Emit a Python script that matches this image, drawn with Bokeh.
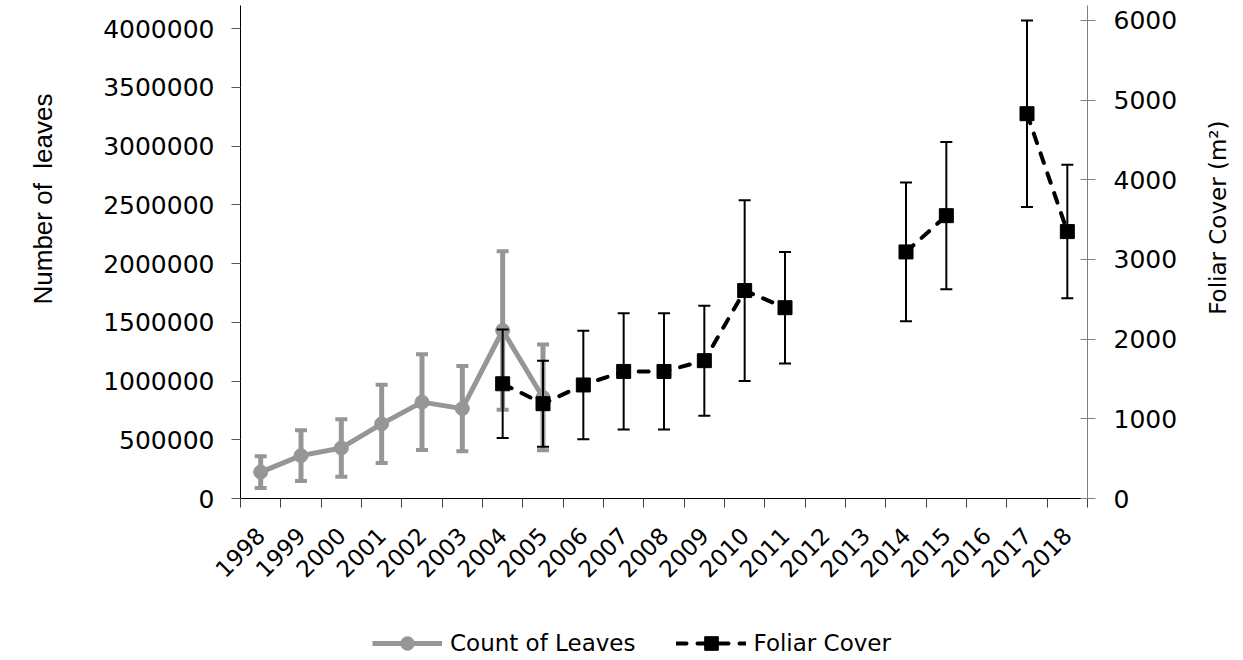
import math
from bokeh.plotting import figure
from bokeh.layouts import column, row
from bokeh.models import (Range1d, LinearAxis, FixedTicker, SingleIntervalTicker,
                          BasicTickFormatter, Legend, LegendItem, Title, ColumnDataSource)
from bokeh.embed import file_html
from bokeh.resources import INLINE

nan = float("nan")

years = list(range(1998, 2019))
year_labels = [str(y) for y in years]

leaves = [225000, 365000, 430000, 635000, 820000, 765000, 1430000, 860000] + [nan] * 13
leaves_err = [135000, 215000, 245000, 333000, 408000, 362000, 675000, 450000] + [nan] * 13

cover = [nan] * 6 + [1440, 1190, 1425, 1595, 1595, 1730, 2610, 2395, nan, nan,
                     3095, 3550, nan, 4830, 3350]
cover_err = [nan] * 6 + [680, 540, 680, 730, 730, 690, 1135, 700, nan, nan,
                         870, 925, nan, 1170, 838]

left_ticks_interval = 500000
right_ticks_interval = 1000

GRAY = "#969696"
TICK_FONT = "DejaVu Sans"

xpos = [i + 0.5 for i in range(len(years))]

src_l = ColumnDataSource(dict(
    x=xpos, y=leaves,
    up=[v + e for v, e in zip(leaves, leaves_err)],
    lo=[v - e for v, e in zip(leaves, leaves_err)]))
src_c = ColumnDataSource(dict(
    x=xpos, y=cover,
    up=[v + e for v, e in zip(cover, cover_err)],
    lo=[v - e for v, e in zip(cover, cover_err)]))

L_W = 82     # strip holding the left axis title
R_W = 52     # strip holding the right axis title
P_W = 1243 - L_W - R_W
FRAME_L, FRAME_R = 240, 1087


def side_strip(width, text, font, size, offset, standoff):
    s = figure(width=width, height=660, output_backend="svg", toolbar_location=None,
               x_axis_type=None, y_axis_type=None, min_border_left=width - 2,
               min_border_right=0, min_border_top=5, min_border_bottom=162,
               x_range=Range1d(0, 1), y_range=Range1d(0, 1))
    s.outline_line_color = None
    s.xgrid.visible = False
    s.ygrid.visible = False
    s.add_layout(Title(text=text, align="right", offset=offset, standoff=standoff,
                       text_font=font, text_font_size=size, text_font_style="normal",
                       text_color="black"), "left")
    return s


lstrip = side_strip(L_W, "Number of\u00a0 leaves", "Liberation Sans", "26px", 88, 50)
rstrip = side_strip(R_W, "Foliar Cover (m\u00b2)", TICK_FONT, "23px", 115, 22)

p = figure(width=P_W, height=615, output_backend="svg", toolbar_location=None,
           x_range=Range1d(0, len(years)), y_range=Range1d(0, 4196000),
           min_border_left=FRAME_L - L_W, min_border_right=P_W - (FRAME_R - L_W),
           min_border_top=5, min_border_bottom=117)
p.extra_y_ranges = {"right": Range1d(0, 6188)}
p.xgrid.visible = False
p.ygrid.visible = False
p.outline_line_color = None
p.background_fill_color = "white"

# x axis: labels centred in categories, ticks at category boundaries
xa = p.xaxis[0]
xa.ticker = FixedTicker(ticks=xpos, minor_ticks=list(range(len(years) + 1)))
xa.major_label_overrides = {x: lab for x, lab in zip(xpos, year_labels)}
xa.major_tick_out = 0
xa.major_tick_in = 0
xa.minor_tick_out = 9
xa.minor_tick_in = 0
xa.minor_tick_line_color = "#404040"
xa.axis_line_color = "black"
xa.major_label_orientation = math.pi / 4
xa.major_label_standoff = 24
xa.major_label_text_font = TICK_FONT
xa.major_label_text_font_size = "23px"
xa.major_label_text_color = "black"

ya = p.yaxis[0]
ya.ticker = SingleIntervalTicker(interval=left_ticks_interval, num_minor_ticks=0)
ya.formatter = BasicTickFormatter(use_scientific=False)
ya.major_tick_out = 9
ya.major_tick_in = 0
ya.minor_tick_out = 0
ya.minor_tick_in = 0
ya.major_tick_line_color = "#595959"
ya.axis_line_color = "black"
ya.major_label_standoff = 17
ya.major_label_text_font = TICK_FONT
ya.major_label_text_font_size = "25px"
ya.major_label_text_color = "black"

ra = LinearAxis(y_range_name="right",
                ticker=SingleIntervalTicker(interval=right_ticks_interval, num_minor_ticks=0))
ra.major_tick_out = 8
ra.major_tick_in = 7
ra.minor_tick_out = 0
ra.minor_tick_in = 0
ra.major_tick_line_color = "#808080"
ra.axis_line_color = "#808080"
ra.major_label_standoff = 18
ra.major_label_text_font = TICK_FONT
ra.major_label_text_font_size = "25px"
ra.major_label_text_color = "black"
p.add_layout(ra, "right")

# Count of leaves (left axis)
p.segment(x0="x", y0="lo", x1="x", y1="up", source=src_l, line_color=GRAY, line_width=5)
p.scatter(x="x", y="up", source=src_l, marker="dash", size=12, line_color=GRAY, line_width=4)
p.scatter(x="x", y="lo", source=src_l, marker="dash", size=12, line_color=GRAY, line_width=4)
p.line(x="x", y="y", source=src_l, line_color=GRAY, line_width=5)
p.scatter(x="x", y="y", source=src_l, marker="circle", size=14,
          fill_color=GRAY, line_color=GRAY)

# Foliar cover (right axis)
p.segment(x0="x", y0="lo", x1="x", y1="up", source=src_c, line_color="black",
          line_width=2, y_range_name="right")
p.scatter(x="x", y="up", source=src_c, marker="dash", size=12, line_color="black",
          line_width=2, y_range_name="right")
p.scatter(x="x", y="lo", source=src_c, marker="dash", size=12, line_color="black",
          line_width=2, y_range_name="right")
p.line(x="x", y="y", source=src_c, line_color="black", line_width=4,
       line_dash="10 11", line_cap="round", y_range_name="right")
p.scatter(x="x", y="y", source=src_c, marker="square", size=14,
          fill_color="black", line_color="black", y_range_name="right")

# Legend strip (separate figure below the chart; its series lie outside its ranges)
q = figure(width=P_W, height=45, output_backend="svg", toolbar_location=None,
           x_axis_type=None, y_axis_type=None, min_border=0,
           x_range=Range1d(-2, -1), y_range=Range1d(-2, -1))
q.outline_line_color = None
q.xgrid.visible = False
q.ygrid.visible = False
gl = q.line(x="x", y="y", source=src_l, line_color=GRAY, line_width=5)
gc = q.scatter(x="x", y="y", source=src_l, marker="circle", size=14,
               fill_color=GRAY, line_color=GRAY)
bl = q.line(x="x", y="y", source=src_c, line_color="black", line_width=4,
            line_dash="10 11", line_cap="round")
bs = q.scatter(x="x", y="y", source=src_c, marker="square", size=14,
               fill_color="black", line_color="black")

legend = Legend(items=[LegendItem(label="Count of Leaves", renderers=[gl, gc], index=0),
                       LegendItem(label="Foliar Cover", renderers=[bl, bs], index=6)],
                orientation="horizontal", location=(132, 0),
                glyph_width=70, glyph_height=34, label_standoff=8, spacing=40,
                padding=0, margin=0, border_line_color=None, background_fill_alpha=0,
                label_text_font=TICK_FONT, label_text_font_size="23px",
                label_text_color="black")
q.add_layout(legend, "center")

layout = row(lstrip, column(p, q, spacing=0), rstrip, spacing=0)
open("out.html", "w").write(file_html(layout, INLINE))
